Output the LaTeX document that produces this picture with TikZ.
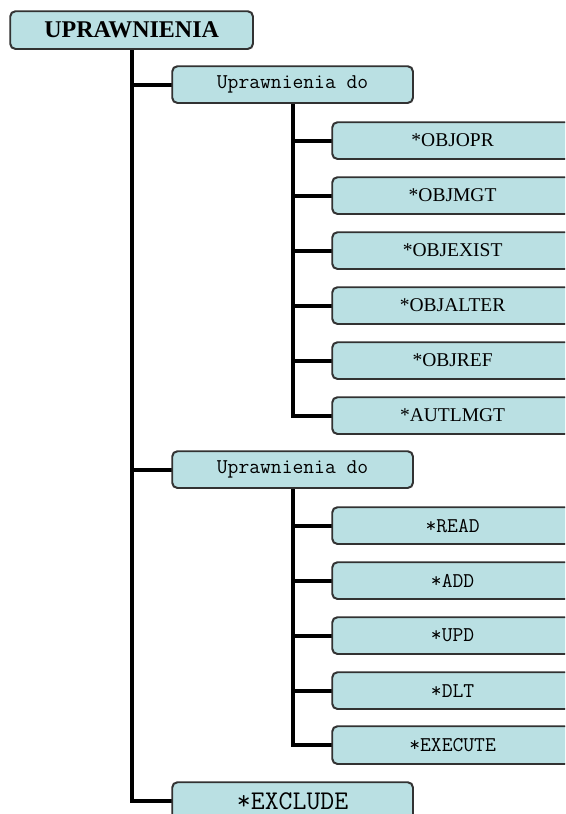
\documentclass[tikz,border=0pt]{standalone}
\usepackage{fontspec}
\setmainfont{Liberation Serif}
\setmonofont{Latin Modern Mono}
\definecolor{boxfill}{RGB}{186,224,227}
\definecolor{boxline}{RGB}{50,50,50}
\tikzset{
  pbox/.style={draw=boxline, line width=1.2pt, fill=boxfill, rounded corners=5pt,
    minimum width=240pt, minimum height=36pt, inner sep=0pt, anchor=north west},
  conn/.style={line width=4pt, line join=miter, line cap=butt, black},
  serift/.style={font=\fontsize{19.5}{22}\selectfont},
  monot/.style={font=\ttfamily\fontsize{21}{24}\selectfont},
}
\begin{document}
\begin{tikzpicture}[x=1pt,y=-1pt]
\useasboundingbox (0,0) rectangle (565,814);
\clip (0,0) rectangle (565,814);
\fill[white] (0,0) rectangle (565,814);
% root
\node[pbox, minimum width=242pt, minimum height=37pt, font=\bfseries\fontsize{24}{26}\selectfont] (root) at (10,11) {UPRAWNIENIA};
% level 1
\node[pbox, monot] (u1) at (172,66) {Uprawnienia do};
\node[pbox, monot] (u2) at (172,451) {Uprawnienia do};
\node[pbox, minimum height=37pt, font=\ttfamily\fontsize{27}{30}\selectfont] (ex) at (172,782) {*EXCLUDE};
% leaves under u1
\node[pbox, serift] (a1) at (332,122) {*OBJOPR};
\node[pbox, serift] (a2) at (332,177) {*OBJMGT};
\node[pbox, serift] (a3) at (332,232) {*OBJEXIST};
\node[pbox, serift] (a4) at (332,287) {*OBJALTER};
\node[pbox, serift] (a5) at (332,342) {*OBJREF};
\node[pbox, serift] (a6) at (332,397) {*AUTLMGT};
% leaves under u2
\node[pbox, monot] (b1) at (332,507) {*READ};
\node[pbox, monot] (b2) at (332,562) {*ADD};
\node[pbox, monot] (b3) at (332,617) {*UPD};
\node[pbox, monot] (b4) at (332,672) {*DLT};
\node[pbox, monot, minimum height=37pt] (b5) at (332,726) {*EXECUTE};
% connectors
\foreach \c in {u1,u2,ex} {\draw[conn] (root.south) |- (\c.west);}
\foreach \c in {a1,a2,a3,a4,a5,a6} {\draw[conn] (u1.south) |- (\c.west);}
\foreach \c in {b1,b2,b3,b4,b5} {\draw[conn] (u2.south) |- (\c.west);}
% redraw box outlines on top of line ends
\foreach \c in {root,u1,u2,ex,a1,a2,a3,a4,a5,a6,b1,b2,b3,b4,b5} {\draw[boxline, line width=1.2pt, rounded corners=5pt] (\c.south west) rectangle (\c.north east);}
\end{tikzpicture}
\end{document}
